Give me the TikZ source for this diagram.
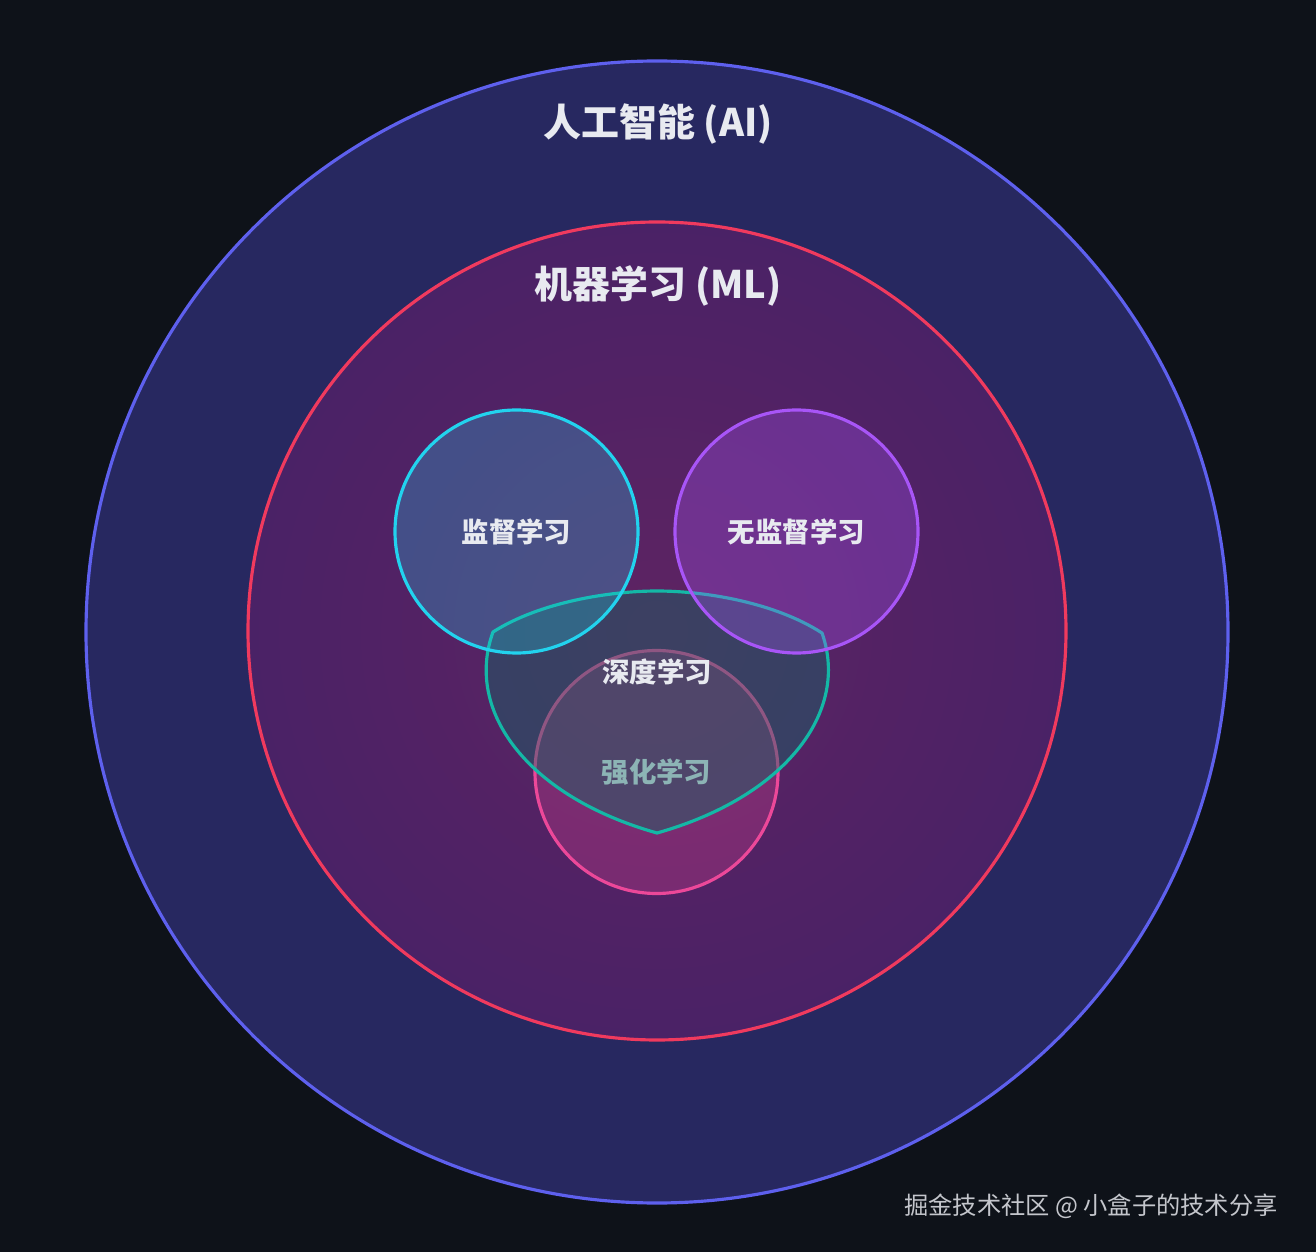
\documentclass[tikz,border=0pt]{standalone}
\usepackage{fontspec}
\newfontfamily\cjk{Noto Sans CJK SC}
\definecolor{night}{HTML}{0E1219}
\definecolor{aiindigo}{HTML}{5E60EE}
\definecolor{aifill}{HTML}{272860}
\definecolor{mlrose}{HTML}{F03A5E}
\definecolor{mlcore}{HTML}{5E2362}
\definecolor{mledge}{HTML}{4A2266}
\definecolor{supcyan}{HTML}{22D3EE}
\definecolor{unsviolet}{HTML}{A855F7}
\definecolor{rlpink}{HTML}{EC4899}
\definecolor{dlteal}{HTML}{14B8A6}
\definecolor{dlfill}{HTML}{0F6A64}
\definecolor{labelwhite}{HTML}{E8EAF0}
\definecolor{markgray}{HTML}{C4C6CC}
\usepackage{tikz}
\usetikzlibrary{positioning,calc}

\begin{document}
\begin{tikzpicture}[
  ring/.style={circle, line width=0.9pt, inner sep=0pt, minimum size=2.43cm, fill opacity=0.26, text opacity=1, text=labelwhite, font=\cjk\bfseries\fontsize{7.8}{9}\selectfont},
  title/.style={font=\cjk\bfseries\fontsize{10.8}{13}\selectfont, text=labelwhite},
  lbl/.style={font=\cjk\bfseries\fontsize{7.8}{9}\selectfont, text=labelwhite},
  credittext/.style={font=\cjk\fontsize{6.9}{8}\selectfont, text=markgray}]
\useasboundingbox (0,0) rectangle (13.16,12.52);
\fill[night] (0,0) rectangle (13.16,12.52);
\filldraw[fill=aifill, draw=aiindigo, line width=0.9pt] (6.57,6.20) circle (5.71);
\shade[inner color=mlcore, outer color=mledge] (6.57,6.21) circle (4.09);
\draw[mlrose, line width=0.9pt] (6.57,6.21) circle (4.09);
\node[title] (ai) at (6.58,11.28) {人工智能 (AI)};
\node[title] (ml) at (6.58,9.66) {机器学习 (ML)};
\node[ring, draw=rlpink, fill=rlpink] (rl) at (6.565,4.80) {强化学习};
\coordinate (dlleft) at (4.93,6.20);
\coordinate (dltop) at (6.57,6.61);
\coordinate (dlright) at (8.22,6.19);
\coordinate (dltip) at (6.57,4.19);
\filldraw[fill=dlfill, fill opacity=0.42, draw=dlteal, line width=0.9pt, line join=round]
  (dlleft) .. controls (5.40,6.50) and (6.10,6.61) .. (dltop)
  .. controls (7.04,6.61) and (7.74,6.50) .. (dlright)
  .. controls (8.50,5.40) and (7.85,4.55) .. (dltip)
  .. controls (5.29,4.55) and (4.64,5.40) .. cycle;
\node[lbl] (dl) at (6.57,5.80) {深度学习};
\node[ring, draw=supcyan, fill=supcyan] (sup) at (5.165,7.205) {监督学习};
\node[ring, draw=unsviolet, fill=unsviolet, fill opacity=0.3] (uns) at (7.965,7.205) {无监督学习};
\node[credittext] (credit) at (10.91,0.46) {掘金技术社区 @ 小盒子的技术分享};
\end{tikzpicture}
\end{document}
